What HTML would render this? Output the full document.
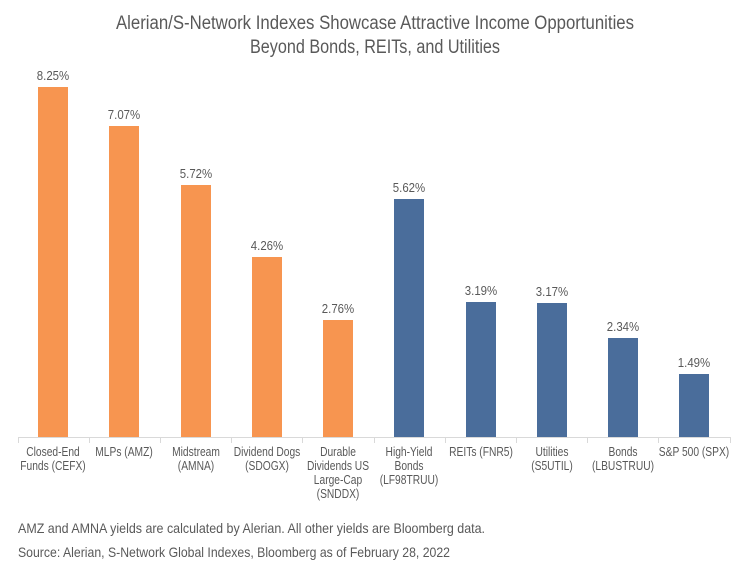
<!DOCTYPE html>
<html><head><style>
body{margin:0;background:#fff;}
svg text{font-family:"Liberation Sans",sans-serif;fill:#595959;}
</style></head><body>
<svg width="750" height="573" xmlns="http://www.w3.org/2000/svg">
<rect width="750" height="573" fill="#fff"/>
<text x="375" y="29" font-size="19" text-anchor="middle" textLength="518" lengthAdjust="spacingAndGlyphs">Alerian/S-Network Indexes Showcase Attractive Income Opportunities</text>
<text x="375" y="53" font-size="19" text-anchor="middle" textLength="250" lengthAdjust="spacingAndGlyphs">Beyond Bonds, REITs, and Utilities</text>
<g fill="#F79550">
<rect x="38" y="87" width="30" height="350"/>
<rect x="109" y="126" width="30" height="311"/>
<rect x="181" y="185" width="30" height="252"/>
<rect x="252" y="257" width="30" height="180"/>
<rect x="323" y="320" width="30" height="117"/>
</g>
<g fill="#4A6D9B">
<rect x="394" y="199" width="30" height="238"/>
<rect x="466" y="302" width="30" height="135"/>
<rect x="537" y="303" width="30" height="134"/>
<rect x="608" y="338" width="30" height="99"/>
<rect x="679" y="374" width="30" height="63"/>
</g>
<g font-size="13" text-anchor="middle">
<text transform="translate(53,80) scale(0.88,1)">8.25%</text>
<text transform="translate(124,119) scale(0.88,1)">7.07%</text>
<text transform="translate(196,178) scale(0.88,1)">5.72%</text>
<text transform="translate(267,250) scale(0.88,1)">4.26%</text>
<text transform="translate(338,313) scale(0.88,1)">2.76%</text>
<text transform="translate(409,192) scale(0.88,1)">5.62%</text>
<text transform="translate(481,295) scale(0.88,1)">3.19%</text>
<text transform="translate(552,296) scale(0.88,1)">3.17%</text>
<text transform="translate(623,331) scale(0.88,1)">2.34%</text>
<text transform="translate(694,367) scale(0.88,1)">1.49%</text>
</g>
<g stroke="#d9d9d9" stroke-width="1">
<line x1="18" y1="437.5" x2="731" y2="437.5"/>
<line x1="18.5" y1="437" x2="18.5" y2="443"/>
<line x1="89.5" y1="437" x2="89.5" y2="443"/>
<line x1="160.5" y1="437" x2="160.5" y2="443"/>
<line x1="231.5" y1="437" x2="231.5" y2="443"/>
<line x1="302.5" y1="437" x2="302.5" y2="443"/>
<line x1="374.5" y1="437" x2="374.5" y2="443"/>
<line x1="445.5" y1="437" x2="445.5" y2="443"/>
<line x1="516.5" y1="437" x2="516.5" y2="443"/>
<line x1="587.5" y1="437" x2="587.5" y2="443"/>
<line x1="658.5" y1="437" x2="658.5" y2="443"/>
<line x1="730.5" y1="437" x2="730.5" y2="443"/>
</g>
<g font-size="12.5" text-anchor="middle">
<text transform="translate(53,456) scale(0.82,1)">Closed-End</text><text transform="translate(53,470) scale(0.82,1)">Funds (CEFX)</text>
<text transform="translate(124,456) scale(0.82,1)">MLPs (AMZ)</text>
<text transform="translate(196,456) scale(0.82,1)">Midstream</text><text transform="translate(196,470) scale(0.82,1)">(AMNA)</text>
<text transform="translate(267,456) scale(0.82,1)">Dividend Dogs</text><text transform="translate(267,470) scale(0.82,1)">(SDOGX)</text>
<text transform="translate(338,456) scale(0.82,1)">Durable</text><text transform="translate(338,470) scale(0.82,1)">Dividends US</text><text transform="translate(338,484) scale(0.82,1)">Large-Cap</text><text transform="translate(338,498) scale(0.82,1)">(SNDDX)</text>
<text transform="translate(409,456) scale(0.82,1)">High-Yield</text><text transform="translate(409,470) scale(0.82,1)">Bonds</text><text transform="translate(409,484) scale(0.82,1)">(LF98TRUU)</text>
<text transform="translate(481,456) scale(0.82,1)">REITs (FNR5)</text>
<text transform="translate(552,456) scale(0.82,1)">Utilities</text><text transform="translate(552,470) scale(0.82,1)">(S5UTIL)</text>
<text transform="translate(623,456) scale(0.82,1)">Bonds</text><text transform="translate(623,470) scale(0.82,1)">(LBUSTRUU)</text>
<text transform="translate(694,456) scale(0.82,1)">S&amp;P 500 (SPX)</text>
</g>
<text x="18" y="533" font-size="14" textLength="467" lengthAdjust="spacingAndGlyphs">AMZ and AMNA yields are calculated by Alerian. All other yields are Bloomberg data.</text>
<text x="18" y="557" font-size="14" textLength="432" lengthAdjust="spacingAndGlyphs">Source: Alerian, S-Network Global Indexes, Bloomberg as of February 28, 2022</text>
</svg>
</body></html>
